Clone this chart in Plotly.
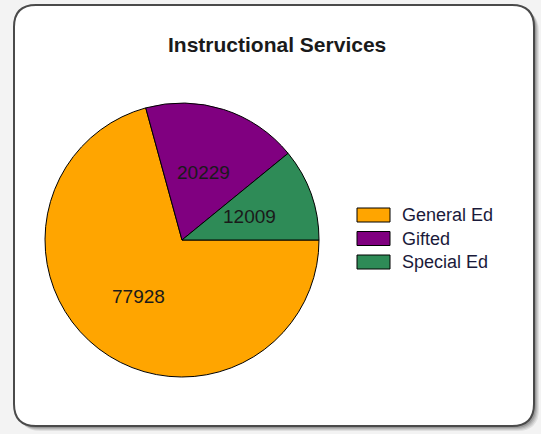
import math
import plotly.graph_objects as go

# Instructional services spending by program
labels = ["General Ed", "Gifted", "Special Ed"]
values = [77928, 20229, 12009]
colors = ["#FFA500", "#800080", "#2E8B57"]
title_text = "Instructional Services"

W, H = 541, 434
FONT = "Liberation Sans, Arial, sans-serif"

# pie geometry in pixels
CX, CY, R = 182, 240, 137
START_DEG = 0  # slices start at 3 o'clock and run clockwise


def px(x):
    return x / W


def py(y):
    return 1 - y / H


def rounded_rect(x0, y0, x1, y1, r):
    # rounded rectangle path in paper fractions, built from pixel coordinates
    pts = [
        f"M{px(x0 + r)},{py(y0)}",
        f"L{px(x1 - r)},{py(y0)}",
        f"Q{px(x1)},{py(y0)} {px(x1)},{py(y0 + r)}",
        f"L{px(x1)},{py(y1 - r)}",
        f"Q{px(x1)},{py(y1)} {px(x1 - r)},{py(y1)}",
        f"L{px(x0 + r)},{py(y1)}",
        f"Q{px(x0)},{py(y1)} {px(x0)},{py(y1 - r)}",
        f"L{px(x0)},{py(y0 + r)}",
        f"Q{px(x0)},{py(y0)} {px(x0 + r)},{py(y0)}",
        "Z",
    ]
    return " ".join(pts)


fig = go.Figure(
    go.Pie(
        labels=labels,
        values=values,
        marker=dict(colors=colors, line=dict(color="#000000", width=1)),
        sort=False,
        direction="clockwise",
        rotation=90,
        textinfo="none",
        domain=dict(x=[px(CX - R), px(CX + R)], y=[py(CY + R), py(CY - R)]),
        showlegend=False,
    )
)

shapes = []
# soft drop shadow behind the card
for i, op in enumerate([0.10, 0.12, 0.16, 0.22]):
    off = 5 - i
    shapes.append(dict(
        type="path", xref="paper", yref="paper",
        path=rounded_rect(14 + off, 5 + off, 534 + off, 426 + off, 22),
        fillcolor=f"rgba(60,60,60,{op})", line=dict(width=0), layer="below",
    ))
# white card with dark rounded border
shapes.append(dict(
    type="path", xref="paper", yref="paper",
    path=rounded_rect(14, 5, 534, 426, 22),
    fillcolor="#ffffff", line=dict(color="#4a4a4a", width=2), layer="below",
))

annotations = [dict(
    text=f"<b>{title_text}</b>", x=px(277), y=py(44), xref="paper", yref="paper",
    showarrow=False, xanchor="center", yanchor="middle",
    font=dict(family=FONT, size=21, color="#1a1a1a"),
)]

# value labels at each slice's mid-angle, halfway out along the radius
total = sum(values)
acc = 0.0
for v in values:
    mid = START_DEG - (acc + v / 2) / total * 360.0
    acc += v
    a = math.radians(mid)
    lx = CX + 0.52 * R * math.cos(a)
    ly = CY - 0.52 * R * math.sin(a)
    annotations.append(dict(
        text=str(v), x=px(lx), y=py(ly), xref="paper", yref="paper",
        showarrow=False, xanchor="center", yanchor="middle",
        font=dict(family=FONT, size=19, color="#1a1a1a"),
    ))

# legend: swatch boxes and labels
for i, (lab, col) in enumerate(zip(labels, colors)):
    cy = 215 + i * 23.5
    shapes.append(dict(
        type="rect", xref="paper", yref="paper",
        x0=px(357), x1=px(390), y0=py(cy - 7), y1=py(cy + 7),
        fillcolor=col, line=dict(color="#000000", width=1),
    ))
    annotations.append(dict(
        text=lab, x=px(400), y=py(cy), xref="paper", yref="paper",
        showarrow=False, xanchor="left", yanchor="middle",
        font=dict(family=FONT, size=18, color="#1a1a3a"),
    ))

fig.update_layout(
    width=W, height=H,
    margin=dict(l=0, r=0, t=0, b=0),
    paper_bgcolor="#f3f3f3",
    plot_bgcolor="#f3f3f3",
    shapes=shapes,
    annotations=annotations,
)

fig.write_html("out.html")
